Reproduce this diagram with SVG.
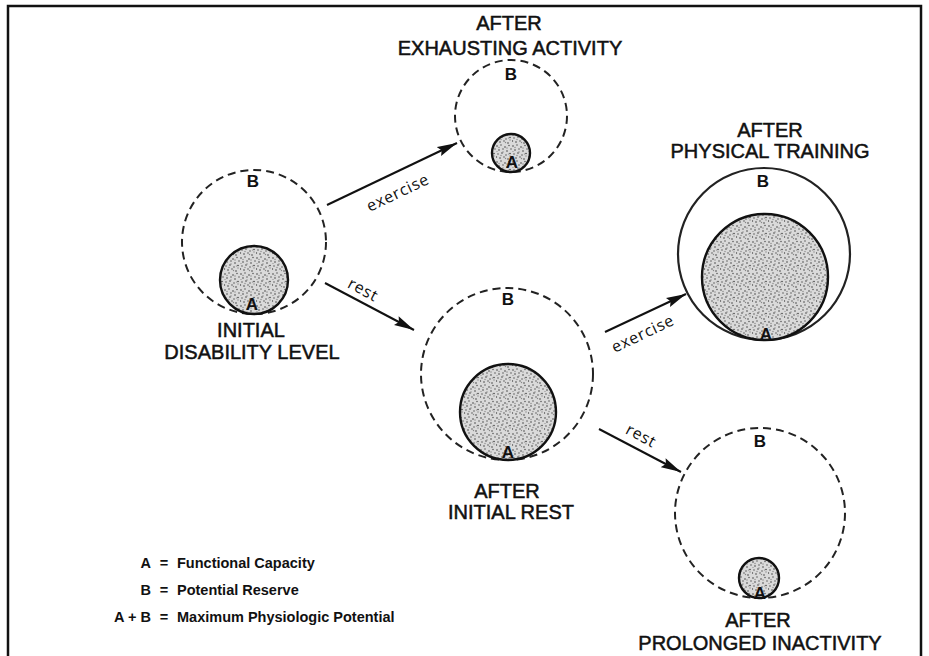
<svg xmlns="http://www.w3.org/2000/svg" width="929" height="656" viewBox="0 0 929 656">
<defs>
<pattern id="stipple" width="16" height="16" patternUnits="userSpaceOnUse">
<rect width="16" height="16" fill="#dadada"/>
<g fill="#444">
<circle cx="1" cy="2" r="0.8"/><circle cx="5" cy="1" r="0.7"/><circle cx="9" cy="3" r="0.8"/><circle cx="13" cy="1.5" r="0.7"/>
<circle cx="3" cy="6" r="0.8"/><circle cx="7" cy="5" r="0.7"/><circle cx="11" cy="7" r="0.8"/><circle cx="15" cy="5" r="0.7"/>
<circle cx="2" cy="10" r="0.7"/><circle cx="6" cy="9" r="0.8"/><circle cx="10" cy="11" r="0.7"/><circle cx="14" cy="9.5" r="0.8"/>
<circle cx="4" cy="14" r="0.8"/><circle cx="8" cy="13" r="0.7"/><circle cx="12" cy="15" r="0.8"/><circle cx="0.5" cy="13" r="0.7"/>
</g>
<g fill="#888">
<circle cx="3" cy="3.5" r="0.7"/><circle cx="11" cy="4" r="0.7"/><circle cx="7" cy="8" r="0.7"/><circle cx="14" cy="12" r="0.7"/>
<circle cx="5" cy="11.5" r="0.7"/><circle cx="9.5" cy="14.5" r="0.7"/><circle cx="12.5" cy="10" r="0.6"/><circle cx="1" cy="7.5" r="0.6"/>
</g>
</pattern>
<marker id="arrow" markerUnits="userSpaceOnUse" markerWidth="22" markerHeight="12" refX="20" refY="6" orient="auto">
<path d="M0,1 L20,6 L0,11 L3,6 z" fill="#111"/>
</marker>
</defs>
<style>
.outer{fill:none;stroke:#222;stroke-width:2;stroke-dasharray:8 5}
.solid{fill:none;stroke:#222;stroke-width:2.2}
.inner{fill:url(#stipple);stroke:#111;stroke-width:2.4}
.lbl{font-family:"Liberation Sans",Arial,sans-serif;font-weight:bold;font-size:17px;fill:#111;text-anchor:middle}
.title{font-family:"Liberation Sans",Arial,sans-serif;font-size:20px;fill:#111;stroke:#111;stroke-width:0.5;text-anchor:middle}
.edge{stroke:#111;stroke-width:2;fill:none;marker-end:url(#arrow)}
.elbl{font-family:"Open Sans","DejaVu Sans",sans-serif;font-size:16px;fill:#111;text-anchor:middle;letter-spacing:0.8px}
.leg{font-family:"Liberation Sans",Arial,sans-serif;font-weight:bold;font-size:14.5px;fill:#111}
</style>
<rect x="8" y="6" width="913" height="690" fill="#fff" stroke="#111" stroke-width="2.5"/>

<g id="node-initial">
<circle class="outer" cx="254" cy="242" r="72"/>
<circle class="inner" cx="254" cy="280" r="34"/>
<text class="lbl" x="253" y="187">B</text>
<text class="lbl" x="252" y="310">A</text>
<text class="title" x="251" y="337">INITIAL</text>
<text class="title" x="252" y="359">DISABILITY LEVEL</text>
</g>

<g id="node-exhausting">
<circle class="outer" cx="511" cy="116" r="56"/>
<circle class="inner" cx="511" cy="153" r="19"/>
<text class="lbl" x="511" y="80">B</text>
<text class="lbl" x="512" y="168">A</text>
<text class="title" x="509" y="30">AFTER</text>
<text class="title" x="510" y="55">EXHAUSTING ACTIVITY</text>
</g>

<g id="node-training">
<circle class="solid" cx="764" cy="254" r="86"/>
<circle class="inner" cx="765" cy="277" r="63"/>
<text class="lbl" x="763" y="187">B</text>
<text class="lbl" x="766" y="340">A</text>
<text class="title" x="770" y="137">AFTER</text>
<text class="title" x="770" y="158">PHYSICAL TRAINING</text>
</g>

<g id="node-rest">
<circle class="outer" cx="507" cy="374" r="86"/>
<circle class="inner" cx="508" cy="412" r="48"/>
<text class="lbl" x="508" y="305">B</text>
<text class="lbl" x="508" y="458">A</text>
<text class="title" x="507" y="498">AFTER</text>
<text class="title" x="511" y="519">INITIAL REST</text>
</g>

<g id="node-inactivity">
<circle class="outer" cx="760" cy="513" r="85"/>
<circle class="inner" cx="759" cy="578" r="20"/>
<text class="lbl" x="760" y="447">B</text>
<text class="lbl" x="760" y="599">A</text>
<text class="title" x="758" y="627">AFTER</text>
<text class="title" x="760" y="650">PROLONGED INACTIVITY</text>
</g>

<g id="connectors">
<line class="edge" x1="327" y1="205" x2="457" y2="143"/>
<text class="elbl" x="398" y="198" transform="rotate(-25.5 398 193)">exercise</text>
<line class="edge" x1="325" y1="283" x2="414" y2="330"/>
<text class="elbl" x="363" y="295" transform="rotate(28 363 290)">rest</text>
<line class="edge" x1="605" y1="332" x2="686" y2="294"/>
<text class="elbl" x="643" y="339" transform="rotate(-25.5 643 334)">exercise</text>
<line class="edge" x1="599" y1="429" x2="681" y2="472"/>
<text class="elbl" x="641" y="441" transform="rotate(28 641 436)">rest</text>
</g>

<g id="legend">
<text class="leg" x="151" y="568" text-anchor="end">A</text>
<text class="leg" x="164" y="568" text-anchor="middle">=</text>
<text class="leg" x="177" y="568">Functional Capacity</text>
<text class="leg" x="151" y="595" text-anchor="end">B</text>
<text class="leg" x="164" y="595" text-anchor="middle">=</text>
<text class="leg" x="177" y="595">Potential Reserve</text>
<text class="leg" x="151" y="622" text-anchor="end">A + B</text>
<text class="leg" x="164" y="622" text-anchor="middle">=</text>
<text class="leg" x="177" y="622">Maximum Physiologic Potential</text>
</g>
</svg>
